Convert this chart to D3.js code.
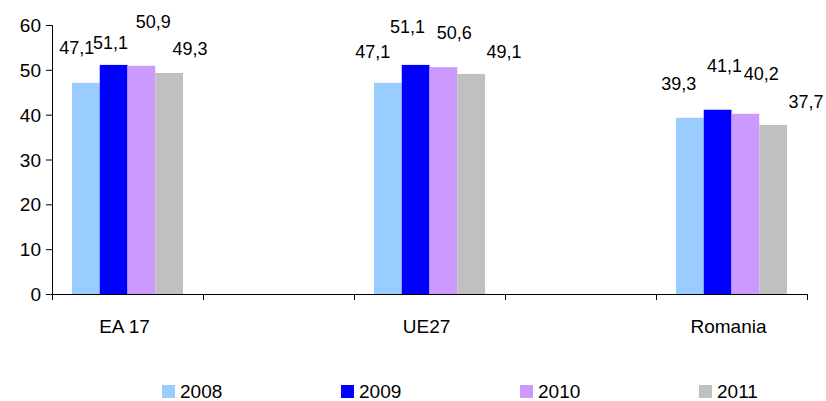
<!DOCTYPE html>
<html>
<head>
<meta charset="utf-8">
<script src="https://cdn.jsdelivr.net/npm/d3@7"></script>
<style>
  body { margin: 0; background: #fff; }
  text { font-family: "Liberation Sans", Arial, sans-serif; fill: #000; }
</style>
</head>
<body>
<svg width="826" height="401"></svg>
<script>
const categories = ["EA 17", "", "UE27", " ", "Romania"];
const years = ["2008", "2009", "2010", "2011"];
const values2008 = [47.1, null, 47.1, null, 39.3];
const values2009 = [51.1, null, 51.1, null, 41.1];
const values2010 = [50.9, null, 50.6, null, 40.2];
const values2011 = [49.3, null, 49.1, null, 37.7];
const yTicks = [0, 10, 20, 30, 40, 50, 60];

const colors = ["#99CCFF", "#0000FF", "#CC99FF", "#C0C0C0"];

// label nudges (dx from bar centre, dy of label centre from bar top), per category
const labelNudge = {
    "EA 17":   [[-9, -35], [-3, -22], [12, -44], [21, -24]],
    "UE27":    [[-15, -31], [-8, -38], [11, -34], [33, -22]],
    "Romania": [[-11, -34], [7, -44], [16, -40], [33, -23]]
};

const series = [values2008, values2009, values2010, values2011];

const svg = d3.select("svg");

const xScale = d3.scaleBand()
    .domain(categories)
    .range([52, 807]);

const xInner = d3.scaleBand()
    .domain(years)
    .range([20, xScale.bandwidth() - 20]);

const yScale = d3.scaleLinear()
    .domain([0, 60])
    .range([294, 25]);

// bars
years.forEach((yr, si) => {
    svg.append("g")
        .selectAll("rect")
        .data(categories.map((c, ci) => ({cat: c, v: series[si][ci]})).filter(d => d.v !== null))
        .enter().append("rect")
        .attr("x", d => xScale(d.cat) + xInner(yr))
        .attr("y", d => yScale(d.v))
        .attr("width", xInner.bandwidth())
        .attr("height", d => yScale(0) - yScale(d.v))
        .attr("fill", colors[si]);
});

// y axis
const yAxis = svg.append("g")
    .attr("transform", "translate(52,0)")
    .call(d3.axisLeft(yScale).tickValues(yTicks).tickSize(6).tickPadding(5).tickFormat(d3.format("d")));
yAxis.select(".domain").attr("d", "M-6,25.5H0.5V300");
yAxis.selectAll("text").style("font-size", "19px").attr("dy", "0.35em");
yAxis.selectAll("line, path").attr("stroke", "#000");

// x axis, ticks on band edges
const xAxis = svg.append("g").attr("transform", "translate(0,294)");
xAxis.append("line")
    .attr("x1", 52).attr("x2", 807.5)
    .attr("y1", 0.5).attr("y2", 0.5)
    .attr("stroke", "#000");
const edges = categories.map(c => xScale(c)).concat([xScale.range()[1]]);
xAxis.selectAll(".edge")
    .data(edges.slice(1))
    .enter().append("line")
    .attr("x1", d => Math.round(d) + 0.5).attr("x2", d => Math.round(d) + 0.5)
    .attr("y1", 0).attr("y2", 6)
    .attr("stroke", "#000");
xAxis.selectAll(".cat")
    .data(categories.filter(c => c.trim() !== ""))
    .enter().append("text")
    .attr("x", d => xScale(d) + xScale.bandwidth() / 2 - 3)
    .attr("y", 39)
    .attr("text-anchor", "middle")
    .style("font-size", "19px")
    .text(d => d);

// data labels
const fmt = v => d3.format(".1f")(v).replace(".", ",");
years.forEach((yr, si) => {
    svg.append("g")
        .selectAll("text")
        .data(categories.map((c, ci) => ({cat: c, v: series[si][ci]})).filter(d => d.v !== null))
        .enter().append("text")
        .attr("x", d => xScale(d.cat) + xInner(yr) + xInner.bandwidth() / 2 + labelNudge[d.cat][si][0])
        .attr("y", d => yScale(d.v) + labelNudge[d.cat][si][1])
        .attr("dy", "0.35em")
        .attr("text-anchor", "middle")
        .style("font-size", "18px")
        .text(d => fmt(d.v));
});

// legend
const legend = svg.append("g");
const legendX = d3.scalePoint().domain(years).range([162, 699]);
years.forEach((yr, i) => {
    legend.append("rect")
        .attr("x", legendX(yr))
        .attr("y", 385)
        .attr("width", 13)
        .attr("height", 13)
        .attr("fill", colors[i]);
    legend.append("text")
        .attr("x", legendX(yr) + 18)
        .attr("y", 398)
        .style("font-size", "19px")
        .text(yr);
});
</script>
</body>
</html>
